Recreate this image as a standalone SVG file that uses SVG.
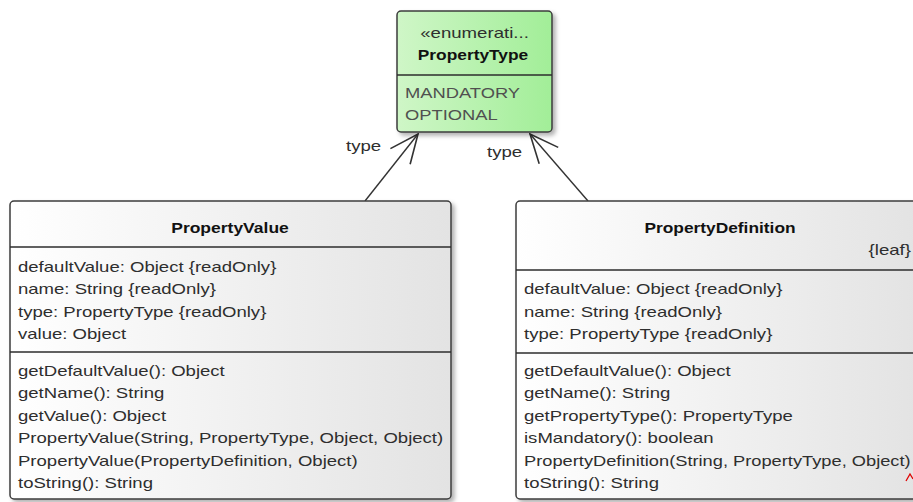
<svg xmlns="http://www.w3.org/2000/svg" width="913" height="502" viewBox="0 0 913 502">
  <defs>
    <linearGradient id="gEnum" x1="0" y1="0" x2="1" y2="0">
      <stop offset="0" stop-color="#cff6c7"/>
      <stop offset="1" stop-color="#a2ee98"/>
    </linearGradient>
    <linearGradient id="gClass" x1="0" y1="0" x2="1" y2="0">
      <stop offset="0" stop-color="#ffffff"/>
      <stop offset="1" stop-color="#e3e3e3"/>
    </linearGradient>
    <filter id="shadow" x="-5%" y="-5%" width="115%" height="115%">
      <feDropShadow dx="3" dy="3" stdDeviation="2" flood-color="#000" flood-opacity="0.3"/>
    </filter>
    <marker id="openArrow" markerUnits="userSpaceOnUse" markerWidth="40" markerHeight="40" viewBox="-30 -15 35 30" refX="0" refY="0" orient="auto">
      <path d="M -25 -11 L 0 0 L -25 11" fill="none" stroke="#333" stroke-width="1.4"/>
    </marker>
  </defs>
  <style>
    .box { stroke: #3c3c3c; stroke-width: 1.5; }
    .div { stroke: #2c2c2c; stroke-width: 1.5; }
    text { font-family: "Liberation Sans", Arial, sans-serif; font-size: 14px; fill: #2e2e2e; }
    .title { font-weight: bold; fill: #111; }
    .lit { fill: #505050; }
    .conn { stroke: #333; stroke-width: 1.4; fill: none; }
  </style>

  <rect width="913" height="502" fill="#ffffff"/>

  <!-- associations -->
  <g id="connectors">
    <line class="conn" x1="365" y1="201" x2="418" y2="134" marker-end="url(#openArrow)"/>
    <line class="conn" x1="588" y1="201" x2="530" y2="134" marker-end="url(#openArrow)"/>
    <text transform="translate(346 151) scale(1.33 1)" x="0" y="0">type</text>
    <text transform="translate(487 157) scale(1.33 1)" x="0" y="0">type</text>
  </g>

  <!-- enumeration -->
  <g id="PropertyType">
    <rect class="box" x="397" y="11" width="155" height="121" rx="4" fill="url(#gEnum)" filter="url(#shadow)"/>
    <line class="div" x1="397" y1="75" x2="552" y2="75"/>
    <text transform="translate(474.5 38) scale(1.33 1)" text-anchor="middle" x="0" y="0">«enumerati...</text>
    <text class="title" transform="translate(473 60) scale(1.24 1)" text-anchor="middle" x="0" y="0">PropertyType</text>
    <g transform="translate(405 0) scale(1.31 1)">
      <text class="lit" x="0" y="98">MANDATORY</text>
      <text class="lit" x="0" y="120">OPTIONAL</text>
    </g>
  </g>

  <!-- class PropertyValue -->
  <g id="PropertyValue">
    <rect class="box" x="10" y="201" width="441" height="298" rx="4" fill="url(#gClass)" filter="url(#shadow)"/>
    <line class="div" x1="10" y1="247" x2="451" y2="247"/>
    <line class="div" x1="10" y1="352" x2="451" y2="352"/>
    <text class="title" transform="translate(230 233) scale(1.25 1)" text-anchor="middle" x="0" y="0">PropertyValue</text>
    <g transform="translate(18 0) scale(1.325 1)">
      <text x="0" y="272">defaultValue: Object {readOnly}</text>
      <text x="0" y="294.5">name: String {readOnly}</text>
      <text x="0" y="317">type: PropertyType {readOnly}</text>
      <text x="0" y="339.5">value: Object</text>
      <text x="0" y="376">getDefaultValue(): Object</text>
      <text x="0" y="398.5">getName(): String</text>
      <text x="0" y="421">getValue(): Object</text>
      <text x="0" y="443.5">PropertyValue(String, PropertyType, Object, Object)</text>
      <text x="0" y="466">PropertyValue(PropertyDefinition, Object)</text>
      <text x="0" y="488.5">toString(): String</text>
    </g>
  </g>

  <!-- class PropertyDefinition -->
  <g id="PropertyDefinition">
    <rect class="box" x="516" y="201" width="404" height="298" rx="4" fill="url(#gClass)" filter="url(#shadow)"/>
    <line class="div" x1="516" y1="270" x2="920" y2="270"/>
    <line class="div" x1="516" y1="353" x2="920" y2="353"/>
    <text class="title" transform="translate(720 233) scale(1.24 1)" text-anchor="middle" x="0" y="0">PropertyDefinition</text>
    <text transform="translate(911 255) scale(1.33 1)" text-anchor="end" x="0" y="0">{leaf}</text>
    <g transform="translate(524 0) scale(1.325 1)">
      <text x="0" y="294.5">defaultValue: Object {readOnly}</text>
      <text x="0" y="317">name: String {readOnly}</text>
      <text x="0" y="339.5">type: PropertyType {readOnly}</text>
      <text x="0" y="376">getDefaultValue(): Object</text>
      <text x="0" y="398.5">getName(): String</text>
      <text x="0" y="421">getPropertyType(): PropertyType</text>
      <text x="0" y="443.5">isMandatory(): boolean</text>
      <text x="0" y="488.5">toString(): String</text>
    </g>
    <text transform="translate(524 466) scale(1.305 1)" x="0" y="0">PropertyDefinition(String, PropertyType, Object)</text>
    <path d="M 906 481 L 910 474 L 913 479" fill="none" stroke="#e00000" stroke-width="1.3"/>
  </g>
</svg>
